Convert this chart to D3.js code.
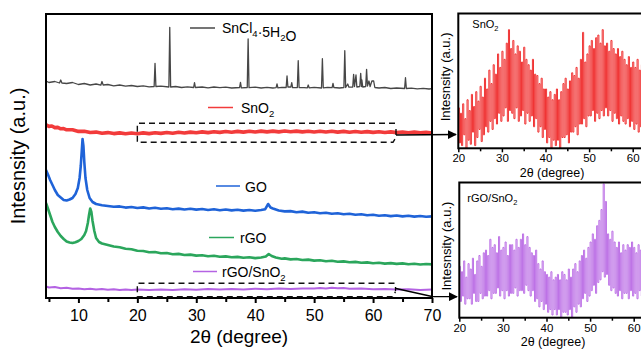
<!DOCTYPE html>
<html>
<head>
<meta charset="utf-8">
<script src="https://cdn.jsdelivr.net/npm/d3@7"></script>
<style>
  body { margin: 0; background: #fff; }
  svg { display: block; font-family: "Liberation Sans", Arial, sans-serif; }
</style>
</head>
<body>
<svg id="chart" width="641" height="349"></svg>
<script>
// main panel traces: [2theta, intensity a.u. (stacked)]
const snCl4 = [[4.5,217],[5,215.5],[6,216.5],[6.8,215],[7,218],[7.2,215],[8,214.5],[9,215.5],[10,213.5],[11,214.5],[12,213],[13,214],[13.8,212.8],[14,216.5],[14.2,213],[15,213.5],[16,212.2],[17,213],[18,211.8],[19,212.5],[20,211.5],[21,212.2],[22,211.2],[22.85,211.5],[23,234.7],[23.15,211.5],[24,211.8],[25.35,211],[25.5,270.7],[25.65,211],[26.5,211.5],[27.5,210.5],[28.5,211.2],[29.55,210.5],[29.7,215.3],[29.85,210.5],[31,211],[32,210.2],[33,211],[34,210.3],[35,210.8],[36,210],[37.35,210.5],[37.5,215.7],[37.65,210.2],[38.65,210.5],[38.8,259],[38.95,210.3],[40,210.8],[41,210],[42,210.6],[43,210],[43.55,210.4],[43.7,214],[43.85,210.2],[44.5,210.6],[45.25,210.5],[45.4,222],[45.55,211],[46.05,211],[46.2,215.3],[46.35,210.4],[47.15,210.5],[47.3,237.3],[47.45,210.5],[48.3,210.3],[48.85,210.2],[49,213],[49.15,210.2],[50,210.6],[51.25,210],[51.4,239.3],[51.55,210.2],[52.3,210.6],[53.05,210.3],[53.2,214.7],[53.35,210.5],[54.3,210],[55.05,210.5],[55.2,247.3],[55.35,210.5],[55.7,214],[55.9,210.8],[56.55,211],[56.7,223.7],[56.85,211.5],[57.1,223],[57.25,211],[57.75,211.5],[57.9,224.7],[58.05,211.5],[58.1,218],[58.25,211],[58.75,211.5],[58.9,228.7],[59.05,212],[59.3,217],[59.5,211.5],[59.8,217],[60.1,217],[60.3,210.5],[61,210],[62,210.5],[63,209.5],[64,210],[65.35,209.5],[65.5,220.3],[65.65,209.5],[66.5,209.8],[67.5,209.2],[68.5,209.6],[69.5,209],[70,209.3]];

const snO2 = [[4.5,173.3],[5,171.6],[5.5,172],[6,170.4],[6.5,170.6],[7,169.2],[7.5,169.4],[8,168.2],[9,168.2],[10,166.6],[11,166.8],[12,165.5],[13,165.9],[14,164.8],[15,165.4],[16,164.4],[17,165.1],[18,164.2],[19,165],[20,164.2],[21,165.1],[22,164.4],[23,165.3],[24,164.6],[25,165.5],[26,164.8],[27,165.7],[28,165],[29,165.9],[30,165.2],[31,166.1],[32,165.4],[33,166.3],[34,165.6],[35,166.5],[36,165.8],[37,166.6],[38,165.9],[39,166.8],[40,166],[41,166.9],[42,166.1],[43,166.9],[44,166.1],[45,167],[46,166.2],[47,166.9],[48,166.1],[49,166.8],[50,166],[51,166.8],[52,166],[53,166.7],[54,165.9],[55,166.6],[56,165.8],[57,166.5],[58,165.7],[59,166.4],[60,165.6],[61,166.3],[62,165.5],[63,166.1],[64,165.4],[65,166],[66,165.2],[67,165.9],[68,165.1],[69,165.7],[70,165]];

const go = [[4.5,128],[4.8,124],[5.2,118],[5.6,113],[6,108],[6.5,103],[7,100.5],[7.5,98],[8,97.5],[8.5,98.5],[9,100],[9.5,104],[9.9,110],[10.2,120],[10.4,132],[10.6,150],[10.7,159],[10.85,152],[11,136],[11.2,120],[11.5,108],[11.9,100],[12.4,96],[13,94],[14,92.8],[15,92],[16,91.2],[17,91.6],[18,90.4],[19,91],[20,90],[21,90.6],[22,89.5],[23,90.2],[24,89.2],[25,89.8],[26,88.8],[27,89.4],[28,88.5],[29,89.2],[30,88.4],[31,89],[32,88],[33,88.7],[34,87.8],[35,88.5],[36,87.6],[37,88.3],[38,87.4],[39,88],[40,87.3],[41,88],[41.7,88.8],[42.2,94],[42.6,90.5],[43,89.5],[44,87.5],[45,86.6],[46,86.9],[47,85.8],[48,86.4],[49,85.3],[50,85.8],[51,84.8],[52,85.3],[53,84.2],[54,84.8],[55,83.8],[56,84.3],[57,83.3],[58,83.8],[59,82.8],[60,83.2],[61,82.3],[62,82.8],[63,81.9],[64,82.5],[65,81.6],[66,82.2],[67,81.4],[68,82],[69,81.2],[70,81.6]];

const rgo = [[4.5,95],[4.8,90],[5.2,83],[5.6,76],[6,71],[6.5,66],[7,62],[7.5,59],[8,56.5],[8.5,55.5],[9,55],[9.5,55.8],[10,57],[10.5,59],[11,63],[11.3,67],[11.6,75],[11.8,83],[12,89.5],[12.2,86],[12.4,77],[12.7,67],[13,60],[13.5,56],[14,54.5],[15,53],[16,51.5],[17,50.8],[18,49.2],[19,48.8],[20,47.2],[21,47],[22,45.8],[23,45.9],[24,44.7],[25,45],[26,43.8],[27,44.1],[28,43],[29,43.4],[30,42.4],[31,42.8],[32,41.8],[33,42.2],[34,41.2],[35,41.6],[36,40.7],[37,41.1],[38,40.2],[39,40.7],[40,39.9],[41,40.5],[41.8,41.5],[42.3,44],[42.8,42],[43.5,40.5],[44.5,39.2],[45,39.6],[46,38.6],[47,39],[48,38],[49,38.4],[50,37.4],[51,37.8],[52,36.8],[53,37.2],[54,36.2],[55,36.6],[56,35.7],[57,36.1],[58,35.2],[59,35.6],[60,34.8],[61,35.2],[62,34.4],[63,34.9],[64,34.1],[65,34.6],[66,33.8],[67,34.3],[68,33.5],[69,34],[70,33.6]];

const rgoSnO2 = [[4.5,11.5],[5,10.5],[6,11],[7,9.8],[8,10.2],[9,9.2],[10,9.6],[11,8.8],[12,9.2],[13,8.4],[14,8.9],[15,8.2],[16,8.7],[17,8],[18,8.6],[19,7.9],[20,8.5],[22,7.9],[24,8.6],[26,8],[28,8.7],[30,8.2],[32,8.9],[34,8.4],[36,9],[38,8.6],[40,9.2],[42,8.8],[44,9.4],[46,9],[48,9.6],[50,9.4],[51,10],[52,9.6],[53,10.3],[54,9.7],[55,10],[56,9.2],[58,9.4],[60,8.8],[62,9],[64,8.4],[66,8.7],[68,8.1],[70,8.4]];

// insets: intensity every 0.25 degree from 20
const insetStart = 20, insetStep = 0.25;
const insetSnO2 = [
  30,4,26,2,33,10,22,0, 36,6,28,3,40,12,31,2, 42,8,35,14,46,5,38,10,
  52,16,44,12,58,20,48,14, 62,22,55,18,70,26,60,20, 72,24,66,30,78,20,88,28,
  74,26,80,22,70,30,76,20, 72,24,64,28,75,18,66,26, 62,20,58,24,66,16,55,22,
  54,12,48,16,52,8,44,14, 44,4,38,8,42,0,36,6, 40,2,44,6,36,0,42,8,
  48,8,52,10,44,4,50,12, 56,12,54,16,60,10,52,18, 66,18,86,22,64,16,70,24,
  76,24,80,28,74,20,82,26, 84,22,78,28,88,24,76,30, 78,24,72,28,80,20,74,26,
  70,22,74,18,68,24,72,20, 66,18,62,22,68,16,60,20, 64,14,60,18,66,12,58,16,62];
const insetRgoSnO2 = [
  38,12,34,16,42,10,30,14, 40,14,36,10,44,18,32,12, 42,12,46,18,38,14,48,16,
  50,16,46,20,58,14,52,18, 54,18,48,22,60,16,50,20, 52,14,56,20,46,16,54,18,
  54,18,50,22,58,16,52,20, 58,20,62,18,54,24,60,20, 52,16,48,20,46,12,50,14,
  40,8,36,12,42,6,34,10, 32,4,30,6,34,2,28,6, 30,2,32,6,28,0,34,4,
  32,4,28,2,36,6,30,0, 36,8,40,4,34,10,42,8, 46,14,50,18,44,12,52,16,
  56,20,62,24,58,18,68,26, 72,28,80,34,99,30,86,32, 62,24,58,20,64,22,56,18,
  52,16,56,20,48,14,54,18, 50,18,54,14,52,20,56,16, 52,18,48,14,54,20,50,16,52];

const mainMajor = [10,20,30,40,50,60,70];
const mainMinor = [5,15,25,35,45,55,65];
const insetMajor = [20,30,40,50,60];
const insetMinor = [25,35,45,55];

const svg = d3.select("#chart");
const font = "'Liberation Sans', Arial, sans-serif";

// ---- main panel
const L = 46, R = 432, T = 14, B = 298;
const x = d3.scaleLinear().domain([4.5, 70]).range([L, R]);
const y = d3.scaleLinear().domain([0, 285]).range([B, 13]);

svg.append("clipPath").attr("id", "clipMain")
  .append("rect").attr("x", L).attr("y", T).attr("width", R - L).attr("height", B - T);

const line = d3.line().x(d => x(d[0])).y(d => y(d[1]));
const traces = [
  { data: snCl4, color: "#474747", w: 1.3 },
  { data: snO2, color: "#f23b3b", w: 3.6 },
  { data: go, color: "#1f63d8", w: 2.6 },
  { data: rgo, color: "#2ba65c", w: 2.6 },
  { data: rgoSnO2, color: "#b463e3", w: 2 }
];
const tg = svg.append("g").attr("clip-path", "url(#clipMain)");
traces.forEach(t => {
  tg.append("path").datum(t.data).attr("d", line)
    .attr("fill", "none").attr("stroke", t.color)
    .attr("stroke-width", t.w).attr("stroke-linejoin", "round");
});

// axes
const gx = svg.append("g").attr("transform", `translate(0,${B})`)
  .call(d3.axisBottom(x).tickValues(mainMajor).tickSize(5).tickPadding(7).tickFormat(d3.format("d")));
gx.select(".domain").remove();
gx.selectAll("line").attr("stroke-width", 2);
gx.selectAll("text").attr("font-size", 16).attr("font-family", font).attr("fill", "#000");
const gxm = svg.append("g").attr("transform", `translate(0,${B})`)
  .call(d3.axisBottom(x).tickValues(mainMinor).tickSize(4).tickFormat(""));
gxm.select(".domain").remove();
gxm.selectAll("line").attr("stroke-width", 2);

svg.append("rect").attr("x", L).attr("y", T).attr("width", R - L).attr("height", B - T)
  .attr("fill", "none").attr("stroke", "#000").attr("stroke-width", 2);

svg.append("text").attr("x", (L + R) / 2).attr("y", 343).attr("text-anchor", "middle")
  .attr("font-size", 19).attr("font-family", font).text("2θ (degree)");
svg.append("text").attr("transform", `translate(25,${(T + B) / 2}) rotate(-90)`)
  .attr("text-anchor", "middle").attr("font-size", 20).attr("font-family", font)
  .text("Intesnsity (a.u.)");

// legend entries beside each curve
function label(g, parts, size) {
  parts.forEach(p => {
    if (typeof p === "string") g.append("tspan").text(p);
    else g.append("tspan").attr("font-size", size * 0.68).attr("dy", size * 0.28).text(p.sub)
      .clone(true).text("").attr("dy", -size * 0.28);
  });
}
const legend = [
  { parts: ["SnCl", { sub: "4" }, "·5H", { sub: "2" }, "O"], color: "#474747", x1: 190, x2: 215, ly: 28, tx: 222, ty: 33 },
  { parts: ["SnO", { sub: "2" }], color: "#f23b3b", x1: 208, x2: 233, ly: 107.5, tx: 241, ty: 113 },
  { parts: ["GO"], color: "#1f63d8", x1: 216, x2: 240, ly: 186, tx: 245, ty: 191.5 },
  { parts: ["rGO"], color: "#2ba65c", x1: 209, x2: 234, ly: 237.5, tx: 240, ty: 243 },
  { parts: ["rGO/SnO", { sub: "2" }], color: "#b463e3", x1: 193, x2: 217, ly: 271.5, tx: 222, ty: 277 }
];
legend.forEach(e => {
  svg.append("line").attr("x1", e.x1).attr("x2", e.x2).attr("y1", e.ly).attr("y2", e.ly)
    .attr("stroke", e.color).attr("stroke-width", 1.5);
  const t = svg.append("text").attr("x", e.tx).attr("y", e.ty)
    .attr("font-size", 14).attr("font-family", font).attr("fill", "#000");
  label(t, e.parts, 14);
});

// dashed zoom boxes + arrows
svg.append("defs").append("marker").attr("id", "arr").attr("viewBox", "0 0 10 10")
  .attr("refX", 9).attr("refY", 5).attr("markerWidth", 9).attr("markerHeight", 9)
  .attr("markerUnits", "userSpaceOnUse").attr("orient", "auto")
  .append("path").attr("d", "M0,0L10,5L0,10Z").attr("fill", "#000");

const boxes = [
  { x0: x(20), x1: 395, y0: 123.3, y1: 142.3, tick: [129, 135], arrow: [[396, 135], [456, 134.5]] },
  { x0: x(20), x1: 394.5, y0: 283.3, y1: 296.7, tick: [287, 291], arrow: [[396, 288.5], [432, 296.5], [457, 296.7]] }
];
boxes.forEach(b => {
  svg.append("path")
    .attr("d", `M${b.x1},${b.y0}H${b.x0}V${b.y1}H${b.x1 - 2}L${b.x1 + 1},${b.y1 - 5}`)
    .attr("fill", "none").attr("stroke", "#111").attr("stroke-width", 1.4)
    .attr("stroke-dasharray", "6,4");
  svg.append("line").attr("x1", b.x1 + 1).attr("x2", b.x1 + 1).attr("y1", b.tick[0]).attr("y2", b.tick[1])
    .attr("stroke", "#000").attr("stroke-width", 1.3);
  svg.append("path").attr("d", d3.line()(b.arrow)).attr("fill", "none")
    .attr("stroke", "#000").attr("stroke-width", 1.3).attr("marker-end", "url(#arr)");
});

// ---- insets
const insets = [
  { vals: insetSnO2, color: "#f03434", name: ["SnO", { sub: "2" }], left: 458.3, top: 13.5, bottom: 148.3, id: "ci1" },
  { vals: insetRgoSnO2, color: "#bd72e6", name: ["rGO/SnO", { sub: "2" }], left: 459.3, top: 182.5, bottom: 317.7, id: "ci2" }
];
insets.forEach((s, k) => {
  const right = s.left + 42.5 * 4.36;
  const ix = d3.scaleLinear().domain([20, 62.5]).range([s.left, right]);
  const iy = d3.scaleLinear().domain([0, 100]).range([s.bottom, s.top]);
  svg.append("clipPath").attr("id", s.id).append("rect")
    .attr("x", s.left).attr("y", s.top).attr("width", right - s.left).attr("height", s.bottom - s.top);
  const pts = s.vals.map((v, i) => [insetStart + i * insetStep, v]);
  svg.append("g").attr("clip-path", `url(#${s.id})`).append("path").datum(pts)
    .attr("d", d3.line().curve(d3.curveStepAfter).x(d => ix(d[0])).y(d => iy(d[1])))
    .attr("fill", "none").attr("stroke", s.color).attr("stroke-width", 1);

  const ax = svg.append("g").attr("transform", `translate(0,${s.bottom})`)
    .call(d3.axisBottom(ix).tickValues(insetMajor).tickSize(4).tickPadding(2).tickFormat(d3.format("d")));
  ax.select(".domain").remove();
  ax.selectAll("line").attr("stroke-width", 1.5);
  ax.selectAll("text").attr("font-size", 11.5).attr("font-family", font).attr("fill", "#000");
  const axm = svg.append("g").attr("transform", `translate(0,${s.bottom})`)
    .call(d3.axisBottom(ix).tickValues(insetMinor).tickSize(3).tickFormat(""));
  axm.select(".domain").remove();
  axm.selectAll("line").attr("stroke-width", 1.5);

  svg.append("rect").attr("x", s.left).attr("y", s.top).attr("width", right - s.left)
    .attr("height", s.bottom - s.top).attr("fill", "none").attr("stroke", "#000").attr("stroke-width", 2);

  const nm = svg.append("text").attr("x", s.left + (k ? 8 : 14)).attr("y", s.top + (k ? 19 : 14))
    .attr("font-size", 11).attr("font-family", font);
  label(nm, s.name, 11);

  svg.append("text").attr("x", ix(41.5)).attr("y", s.bottom + 28.3).attr("text-anchor", "middle")
    .attr("font-size", 12.5).attr("font-family", font).text("2θ (degree)");
  svg.append("text").attr("transform", `translate(${s.left - 8},${(s.top + s.bottom) / 2 - 4}) rotate(-90)`)
    .attr("text-anchor", "middle").attr("font-size", 13).attr("font-family", font)
    .text("Intesnsity (a.u.)");
});
</script>
</body>
</html>
